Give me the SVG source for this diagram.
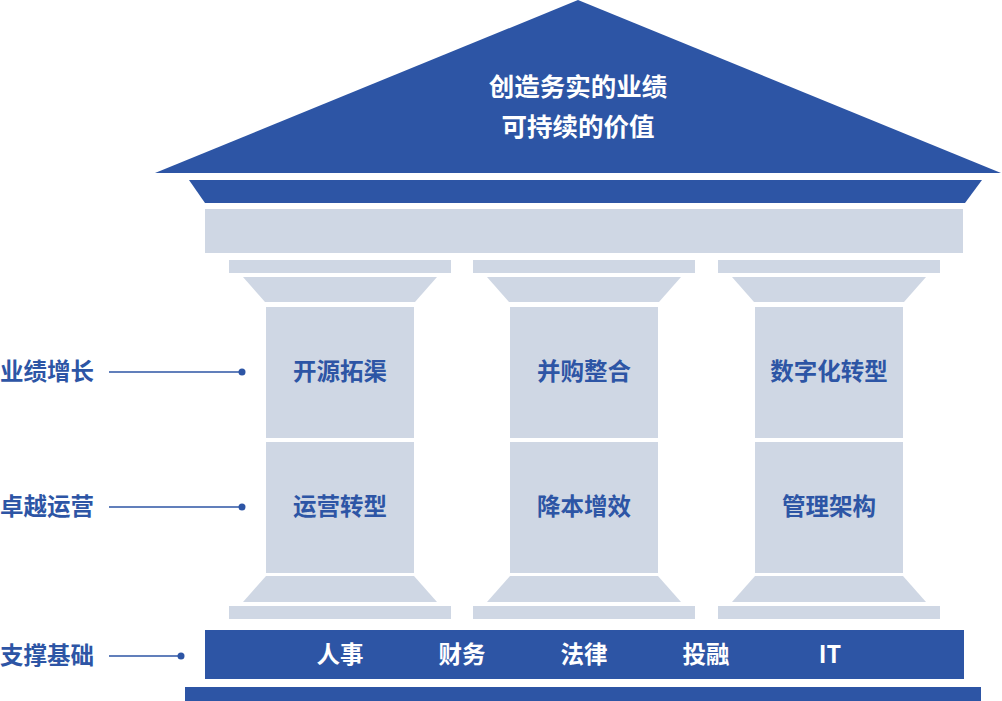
<svg xmlns="http://www.w3.org/2000/svg" width="1002" height="701" viewBox="0 0 1002 701">
<style>
.blue{fill:#2D55A5}
.light{fill:#CFD7E4}
text{font-family:"Noto Sans CJK SC","Liberation Sans",sans-serif;font-weight:bold;dominant-baseline:central}
.roof{fill:#FFFFFF;font-size:25.5px;text-anchor:middle}
.pt{fill:#2D55A5;font-size:23.5px;text-anchor:middle}
.bt{fill:#FFFFFF;font-size:23.5px;text-anchor:middle}
.lab{fill:#2D55A5;font-size:23.5px;text-anchor:start}
.conn{stroke:#2D55A5;stroke-width:1.5;fill:none}
</style>
<defs>
<g id="pillar">
<rect class="light" x="-111" y="260" width="222" height="13"/>
<polygon class="light" points="-97,277 97,277 75,302 -75,302"/>
<rect class="light" x="-74" y="307" width="148" height="131"/>
<rect class="light" x="-74" y="442" width="148" height="131"/>
<polygon class="light" points="-74,576 74,576 97,602 -97,602"/>
<rect class="light" x="-111" y="606" width="222" height="13"/>
</g>
</defs>
<g id="roof">
<polygon class="blue" points="578,0 1001,173 155,173"/>
<text class="roof" x="578" y="84">创造务实的业绩</text>
<text class="roof" x="578" y="124">可持续的价值</text>
</g>
<g id="entablature">
<polygon class="blue" points="189,180 982,180 965,203 205,203"/>
<rect class="light" x="205" y="209" width="758" height="44"/>
</g>
<g id="pillar1">
<use href="#pillar" x="340"/>
<text class="pt" x="340" y="370">开源拓渠</text>
<text class="pt" x="340" y="505">运营转型</text>
</g>
<g id="pillar2">
<use href="#pillar" x="584"/>
<text class="pt" x="584" y="370">并购整合</text>
<text class="pt" x="584" y="505">降本增效</text>
</g>
<g id="pillar3">
<use href="#pillar" x="829"/>
<text class="pt" x="829" y="370">数字化转型</text>
<text class="pt" x="829" y="505">管理架构</text>
</g>
<g id="foundation">
<rect class="blue" x="205" y="630" width="759" height="49"/>
<text class="bt" x="340" y="653">人事</text>
<text class="bt" x="462" y="653">财务</text>
<text class="bt" x="584" y="653">法律</text>
<text class="bt" x="706" y="653">投融</text>
<text class="bt" x="830" y="653">IT</text>
<rect class="blue" x="185" y="687" width="796" height="14"/>
</g>
<g id="label-growth">
<text class="lab" x="0" y="370">业绩增长</text>
</g>
<g id="label-ops">
<text class="lab" x="0" y="505">卓越运营</text>
</g>
<g id="label-support">
<text class="lab" x="0" y="654">支撑基础</text>
</g>
<g id="connectors">
<line class="conn" x1="109" y1="372" x2="242" y2="372"/>
<circle class="blue" cx="242" cy="372" r="3.5"/>
<line class="conn" x1="109" y1="507" x2="242" y2="507"/>
<circle class="blue" cx="242" cy="507" r="3.5"/>
<line class="conn" x1="109" y1="656" x2="181" y2="656"/>
<circle class="blue" cx="181" cy="656" r="3.5"/>
</g>
</svg>
